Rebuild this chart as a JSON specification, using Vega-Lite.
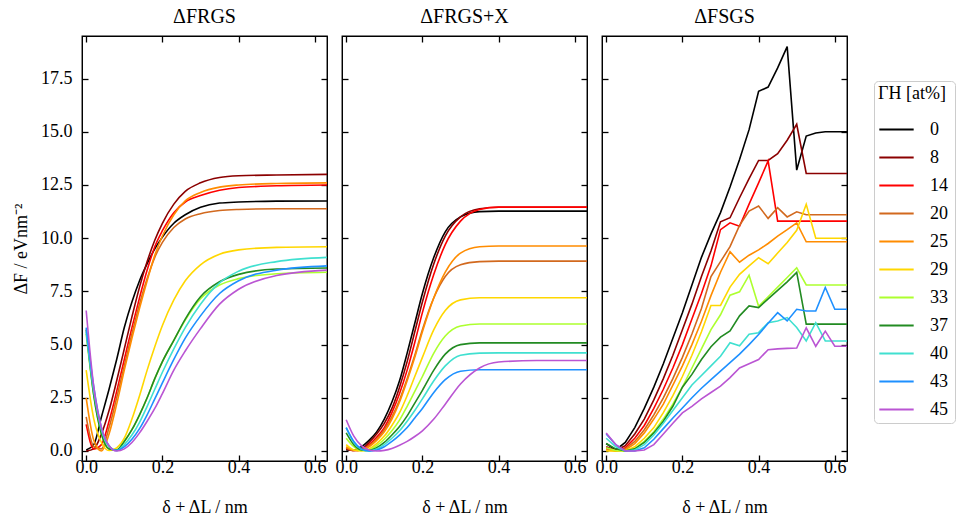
{
  "$schema": "https://vega.github.io/schema/vega-lite/v6.json",
  "padding": {"left": 11, "top": 6, "right": 0, "bottom": 0},
  "background": "white",
  "config": {
    "font": "Liberation Serif",
    "view": {"stroke": "black", "strokeWidth": 1.3},
    "concat": {"spacing": 3},
    "title": {"font": "Liberation Serif", "fontSize": 20, "fontWeight": "normal", "color": "black", "offset": 8},
    "axis": {"labelFont": "Liberation Serif", "labelFontSize": 18, "titleFont": "Liberation Serif", "titleFontSize": 18, "titleFontWeight": "normal", "labelColor": "black", "titleColor": "black", "tickColor": "black", "domainColor": "black", "tickSize": -6, "tickWidth": 1.3, "labelPadding": 16, "grid": false},
    "legend": {"labelFont": "Liberation Serif", "titleFont": "Liberation Serif"}
  },
  "datasets": {
    "d": [
{"p":"R","g":0,"x":0,"y":0.05},{"p":"R","g":0,"x":0.02,"y":0.3},{"p":"R","g":0,"x":0.04,"y":1.6},{"p":"R","g":0,"x":0.06,"y":2.9},{"p":"R","g":0,"x":0.08,"y":4.3},{"p":"R","g":0,"x":0.1,"y":5.8},{"p":"R","g":0,"x":0.12,"y":7.0},{"p":"R","g":0,"x":0.14,"y":8.0},{"p":"R","g":0,"x":0.16,"y":8.8},{"p":"R","g":0,"x":0.18,"y":9.5},{"p":"R","g":0,"x":0.2,"y":10.05},{"p":"R","g":0,"x":0.23,"y":10.7},{"p":"R","g":0,"x":0.26,"y":11.1},{"p":"R","g":0,"x":0.3,"y":11.45},{"p":"R","g":0,"x":0.35,"y":11.65},{"p":"R","g":0,"x":0.4,"y":11.7},{"p":"R","g":0,"x":0.5,"y":11.74},{"p":"R","g":0,"x":0.632,"y":11.75},
{"p":"R","g":8,"x":0,"y":0.0},{"p":"R","g":8,"x":0.02,"y":0.1},{"p":"R","g":8,"x":0.04,"y":0.8},{"p":"R","g":8,"x":0.06,"y":1.9},{"p":"R","g":8,"x":0.08,"y":3.3},{"p":"R","g":8,"x":0.1,"y":4.8},{"p":"R","g":8,"x":0.12,"y":6.3},{"p":"R","g":8,"x":0.14,"y":7.7},{"p":"R","g":8,"x":0.16,"y":8.9},{"p":"R","g":8,"x":0.18,"y":9.9},{"p":"R","g":8,"x":0.2,"y":10.7},{"p":"R","g":8,"x":0.23,"y":11.6},{"p":"R","g":8,"x":0.26,"y":12.2},{"p":"R","g":8,"x":0.3,"y":12.6},{"p":"R","g":8,"x":0.35,"y":12.85},{"p":"R","g":8,"x":0.4,"y":12.93},{"p":"R","g":8,"x":0.5,"y":12.97},{"p":"R","g":8,"x":0.632,"y":13.0},
{"p":"R","g":14,"x":0,"y":1.25},{"p":"R","g":14,"x":0.02,"y":0.1},{"p":"R","g":14,"x":0.04,"y":0.3},{"p":"R","g":14,"x":0.06,"y":1.4},{"p":"R","g":14,"x":0.08,"y":2.8},{"p":"R","g":14,"x":0.1,"y":4.3},{"p":"R","g":14,"x":0.12,"y":5.8},{"p":"R","g":14,"x":0.14,"y":7.2},{"p":"R","g":14,"x":0.16,"y":8.5},{"p":"R","g":14,"x":0.18,"y":9.6},{"p":"R","g":14,"x":0.2,"y":10.35},{"p":"R","g":14,"x":0.23,"y":11.2},{"p":"R","g":14,"x":0.26,"y":11.7},{"p":"R","g":14,"x":0.3,"y":12.0},{"p":"R","g":14,"x":0.35,"y":12.25},{"p":"R","g":14,"x":0.4,"y":12.38},{"p":"R","g":14,"x":0.5,"y":12.46},{"p":"R","g":14,"x":0.632,"y":12.5},
{"p":"R","g":20,"x":0,"y":1.6},{"p":"R","g":20,"x":0.02,"y":0.2},{"p":"R","g":20,"x":0.04,"y":0.1},{"p":"R","g":20,"x":0.06,"y":1.1},{"p":"R","g":20,"x":0.08,"y":2.5},{"p":"R","g":20,"x":0.1,"y":4.0},{"p":"R","g":20,"x":0.12,"y":5.5},{"p":"R","g":20,"x":0.14,"y":6.9},{"p":"R","g":20,"x":0.16,"y":8.1},{"p":"R","g":20,"x":0.18,"y":9.1},{"p":"R","g":20,"x":0.2,"y":9.8},{"p":"R","g":20,"x":0.23,"y":10.5},{"p":"R","g":20,"x":0.26,"y":10.9},{"p":"R","g":20,"x":0.3,"y":11.15},{"p":"R","g":20,"x":0.35,"y":11.3},{"p":"R","g":20,"x":0.4,"y":11.35},{"p":"R","g":20,"x":0.5,"y":11.38},{"p":"R","g":20,"x":0.632,"y":11.38},
{"p":"R","g":25,"x":0,"y":2.5},{"p":"R","g":25,"x":0.02,"y":0.5},{"p":"R","g":25,"x":0.04,"y":0.0},{"p":"R","g":25,"x":0.06,"y":0.8},{"p":"R","g":25,"x":0.08,"y":2.2},{"p":"R","g":25,"x":0.1,"y":3.8},{"p":"R","g":25,"x":0.12,"y":5.3},{"p":"R","g":25,"x":0.14,"y":6.7},{"p":"R","g":25,"x":0.16,"y":8.0},{"p":"R","g":25,"x":0.18,"y":9.2},{"p":"R","g":25,"x":0.2,"y":10.1},{"p":"R","g":25,"x":0.23,"y":11.1},{"p":"R","g":25,"x":0.26,"y":11.75},{"p":"R","g":25,"x":0.3,"y":12.15},{"p":"R","g":25,"x":0.35,"y":12.4},{"p":"R","g":25,"x":0.4,"y":12.5},{"p":"R","g":25,"x":0.5,"y":12.57},{"p":"R","g":25,"x":0.632,"y":12.6},
{"p":"R","g":29,"x":0,"y":3.8},{"p":"R","g":29,"x":0.02,"y":1.5},{"p":"R","g":29,"x":0.04,"y":0.4},{"p":"R","g":29,"x":0.06,"y":0.02},{"p":"R","g":29,"x":0.08,"y":0.15},{"p":"R","g":29,"x":0.1,"y":0.6},{"p":"R","g":29,"x":0.12,"y":1.5},{"p":"R","g":29,"x":0.14,"y":2.6},{"p":"R","g":29,"x":0.16,"y":3.8},{"p":"R","g":29,"x":0.18,"y":4.9},{"p":"R","g":29,"x":0.2,"y":5.9},{"p":"R","g":29,"x":0.23,"y":7.1},{"p":"R","g":29,"x":0.26,"y":8.0},{"p":"R","g":29,"x":0.3,"y":8.75},{"p":"R","g":29,"x":0.35,"y":9.25},{"p":"R","g":29,"x":0.4,"y":9.45},{"p":"R","g":29,"x":0.5,"y":9.57},{"p":"R","g":29,"x":0.632,"y":9.6},
{"p":"R","g":33,"x":0,"y":5.5},{"p":"R","g":33,"x":0.02,"y":2.6},{"p":"R","g":33,"x":0.04,"y":0.8},{"p":"R","g":33,"x":0.06,"y":0.1},{"p":"R","g":33,"x":0.08,"y":0.05},{"p":"R","g":33,"x":0.1,"y":0.45},{"p":"R","g":33,"x":0.12,"y":1.0},{"p":"R","g":33,"x":0.14,"y":1.7},{"p":"R","g":33,"x":0.16,"y":2.5},{"p":"R","g":33,"x":0.18,"y":3.4},{"p":"R","g":33,"x":0.2,"y":4.2},{"p":"R","g":33,"x":0.23,"y":5.2},{"p":"R","g":33,"x":0.26,"y":6.15},{"p":"R","g":33,"x":0.3,"y":7.15},{"p":"R","g":33,"x":0.35,"y":7.8},{"p":"R","g":33,"x":0.4,"y":8.1},{"p":"R","g":33,"x":0.5,"y":8.33},{"p":"R","g":33,"x":0.632,"y":8.4},
{"p":"R","g":37,"x":0,"y":5.7},{"p":"R","g":37,"x":0.02,"y":2.6},{"p":"R","g":37,"x":0.04,"y":0.8},{"p":"R","g":37,"x":0.06,"y":0.1},{"p":"R","g":37,"x":0.08,"y":0.05},{"p":"R","g":37,"x":0.1,"y":0.45},{"p":"R","g":37,"x":0.12,"y":1.0},{"p":"R","g":37,"x":0.14,"y":1.7},{"p":"R","g":37,"x":0.16,"y":2.5},{"p":"R","g":37,"x":0.18,"y":3.4},{"p":"R","g":37,"x":0.2,"y":4.2},{"p":"R","g":37,"x":0.23,"y":5.2},{"p":"R","g":37,"x":0.26,"y":6.2},{"p":"R","g":37,"x":0.3,"y":7.25},{"p":"R","g":37,"x":0.35,"y":7.95},{"p":"R","g":37,"x":0.4,"y":8.3},{"p":"R","g":37,"x":0.5,"y":8.55},{"p":"R","g":37,"x":0.632,"y":8.6},
{"p":"R","g":40,"x":0,"y":5.6},{"p":"R","g":40,"x":0.02,"y":2.8},{"p":"R","g":40,"x":0.04,"y":1.0},{"p":"R","g":40,"x":0.06,"y":0.2},{"p":"R","g":40,"x":0.08,"y":0.02},{"p":"R","g":40,"x":0.1,"y":0.3},{"p":"R","g":40,"x":0.12,"y":0.75},{"p":"R","g":40,"x":0.14,"y":1.35},{"p":"R","g":40,"x":0.16,"y":2.1},{"p":"R","g":40,"x":0.18,"y":2.9},{"p":"R","g":40,"x":0.2,"y":3.7},{"p":"R","g":40,"x":0.23,"y":4.8},{"p":"R","g":40,"x":0.26,"y":5.8},{"p":"R","g":40,"x":0.3,"y":6.9},{"p":"R","g":40,"x":0.35,"y":7.9},{"p":"R","g":40,"x":0.4,"y":8.45},{"p":"R","g":40,"x":0.5,"y":8.9},{"p":"R","g":40,"x":0.632,"y":9.1},
{"p":"R","g":43,"x":0,"y":5.8},{"p":"R","g":43,"x":0.02,"y":3.0},{"p":"R","g":43,"x":0.04,"y":1.1},{"p":"R","g":43,"x":0.06,"y":0.25},{"p":"R","g":43,"x":0.08,"y":0.02},{"p":"R","g":43,"x":0.1,"y":0.2},{"p":"R","g":43,"x":0.12,"y":0.55},{"p":"R","g":43,"x":0.14,"y":1.05},{"p":"R","g":43,"x":0.16,"y":1.7},{"p":"R","g":43,"x":0.18,"y":2.45},{"p":"R","g":43,"x":0.2,"y":3.2},{"p":"R","g":43,"x":0.23,"y":4.3},{"p":"R","g":43,"x":0.26,"y":5.3},{"p":"R","g":43,"x":0.3,"y":6.35},{"p":"R","g":43,"x":0.35,"y":7.4},{"p":"R","g":43,"x":0.4,"y":8.0},{"p":"R","g":43,"x":0.5,"y":8.5},{"p":"R","g":43,"x":0.632,"y":8.7},
{"p":"R","g":45,"x":0,"y":6.6},{"p":"R","g":45,"x":0.02,"y":3.0},{"p":"R","g":45,"x":0.04,"y":1.1},{"p":"R","g":45,"x":0.06,"y":0.25},{"p":"R","g":45,"x":0.08,"y":0.0},{"p":"R","g":45,"x":0.1,"y":0.1},{"p":"R","g":45,"x":0.12,"y":0.4},{"p":"R","g":45,"x":0.14,"y":0.85},{"p":"R","g":45,"x":0.16,"y":1.4},{"p":"R","g":45,"x":0.18,"y":2.0},{"p":"R","g":45,"x":0.2,"y":2.7},{"p":"R","g":45,"x":0.23,"y":3.8},{"p":"R","g":45,"x":0.26,"y":4.7},{"p":"R","g":45,"x":0.3,"y":5.75},{"p":"R","g":45,"x":0.35,"y":6.9},{"p":"R","g":45,"x":0.4,"y":7.6},{"p":"R","g":45,"x":0.5,"y":8.25},{"p":"R","g":45,"x":0.632,"y":8.5},

{"p":"X","g":0,"x":0,"y":0.05},{"p":"X","g":0,"x":0.02,"y":0.05},{"p":"X","g":0,"x":0.04,"y":0.2},{"p":"X","g":0,"x":0.06,"y":0.5},{"p":"X","g":0,"x":0.08,"y":0.9},{"p":"X","g":0,"x":0.1,"y":1.5},{"p":"X","g":0,"x":0.12,"y":2.3},{"p":"X","g":0,"x":0.14,"y":3.3},{"p":"X","g":0,"x":0.16,"y":4.6},{"p":"X","g":0,"x":0.18,"y":6.0},{"p":"X","g":0,"x":0.2,"y":7.4},{"p":"X","g":0,"x":0.23,"y":9.1},{"p":"X","g":0,"x":0.26,"y":10.3},{"p":"X","g":0,"x":0.3,"y":11.0},{"p":"X","g":0,"x":0.35,"y":11.25},{"p":"X","g":0,"x":0.4,"y":11.27},{"p":"X","g":0,"x":0.5,"y":11.27},{"p":"X","g":0,"x":0.632,"y":11.27},
{"p":"X","g":8,"x":0,"y":0.1},{"p":"X","g":8,"x":0.02,"y":0.02},{"p":"X","g":8,"x":0.04,"y":0.1},{"p":"X","g":8,"x":0.06,"y":0.4},{"p":"X","g":8,"x":0.08,"y":0.8},{"p":"X","g":8,"x":0.1,"y":1.3},{"p":"X","g":8,"x":0.12,"y":2.0},{"p":"X","g":8,"x":0.14,"y":3.0},{"p":"X","g":8,"x":0.16,"y":4.2},{"p":"X","g":8,"x":0.18,"y":5.6},{"p":"X","g":8,"x":0.2,"y":7.0},{"p":"X","g":8,"x":0.23,"y":8.8},{"p":"X","g":8,"x":0.26,"y":10.1},{"p":"X","g":8,"x":0.3,"y":11.0},{"p":"X","g":8,"x":0.35,"y":11.38},{"p":"X","g":8,"x":0.4,"y":11.45},{"p":"X","g":8,"x":0.5,"y":11.45},{"p":"X","g":8,"x":0.632,"y":11.45},
{"p":"X","g":14,"x":0,"y":0.15},{"p":"X","g":14,"x":0.02,"y":0.02},{"p":"X","g":14,"x":0.04,"y":0.05},{"p":"X","g":14,"x":0.06,"y":0.3},{"p":"X","g":14,"x":0.08,"y":0.65},{"p":"X","g":14,"x":0.1,"y":1.1},{"p":"X","g":14,"x":0.12,"y":1.8},{"p":"X","g":14,"x":0.14,"y":2.7},{"p":"X","g":14,"x":0.16,"y":3.8},{"p":"X","g":14,"x":0.18,"y":5.1},{"p":"X","g":14,"x":0.2,"y":6.5},{"p":"X","g":14,"x":0.23,"y":8.3},{"p":"X","g":14,"x":0.26,"y":9.7},{"p":"X","g":14,"x":0.3,"y":10.8},{"p":"X","g":14,"x":0.35,"y":11.35},{"p":"X","g":14,"x":0.4,"y":11.46},{"p":"X","g":14,"x":0.5,"y":11.46},{"p":"X","g":14,"x":0.632,"y":11.46},
{"p":"X","g":20,"x":0,"y":0.15},{"p":"X","g":20,"x":0.02,"y":0.02},{"p":"X","g":20,"x":0.04,"y":0.05},{"p":"X","g":20,"x":0.06,"y":0.25},{"p":"X","g":20,"x":0.08,"y":0.55},{"p":"X","g":20,"x":0.1,"y":1.0},{"p":"X","g":20,"x":0.12,"y":1.6},{"p":"X","g":20,"x":0.14,"y":2.4},{"p":"X","g":20,"x":0.16,"y":3.4},{"p":"X","g":20,"x":0.18,"y":4.5},{"p":"X","g":20,"x":0.2,"y":5.7},{"p":"X","g":20,"x":0.23,"y":7.2},{"p":"X","g":20,"x":0.26,"y":8.2},{"p":"X","g":20,"x":0.3,"y":8.75},{"p":"X","g":20,"x":0.35,"y":8.9},{"p":"X","g":20,"x":0.4,"y":8.92},{"p":"X","g":20,"x":0.5,"y":8.92},{"p":"X","g":20,"x":0.632,"y":8.92},
{"p":"X","g":25,"x":0,"y":0.2},{"p":"X","g":25,"x":0.02,"y":0.05},{"p":"X","g":25,"x":0.04,"y":0.05},{"p":"X","g":25,"x":0.06,"y":0.2},{"p":"X","g":25,"x":0.08,"y":0.5},{"p":"X","g":25,"x":0.1,"y":0.9},{"p":"X","g":25,"x":0.12,"y":1.5},{"p":"X","g":25,"x":0.14,"y":2.3},{"p":"X","g":25,"x":0.16,"y":3.3},{"p":"X","g":25,"x":0.18,"y":4.4},{"p":"X","g":25,"x":0.2,"y":5.6},{"p":"X","g":25,"x":0.23,"y":7.2},{"p":"X","g":25,"x":0.26,"y":8.4},{"p":"X","g":25,"x":0.3,"y":9.3},{"p":"X","g":25,"x":0.35,"y":9.6},{"p":"X","g":25,"x":0.4,"y":9.63},{"p":"X","g":25,"x":0.5,"y":9.63},{"p":"X","g":25,"x":0.632,"y":9.63},
{"p":"X","g":29,"x":0,"y":0.3},{"p":"X","g":29,"x":0.02,"y":0.05},{"p":"X","g":29,"x":0.04,"y":0.0},{"p":"X","g":29,"x":0.06,"y":0.1},{"p":"X","g":29,"x":0.08,"y":0.35},{"p":"X","g":29,"x":0.1,"y":0.7},{"p":"X","g":29,"x":0.12,"y":1.2},{"p":"X","g":29,"x":0.14,"y":1.8},{"p":"X","g":29,"x":0.16,"y":2.6},{"p":"X","g":29,"x":0.18,"y":3.5},{"p":"X","g":29,"x":0.2,"y":4.4},{"p":"X","g":29,"x":0.23,"y":5.7},{"p":"X","g":29,"x":0.26,"y":6.6},{"p":"X","g":29,"x":0.3,"y":7.1},{"p":"X","g":29,"x":0.35,"y":7.2},{"p":"X","g":29,"x":0.4,"y":7.2},{"p":"X","g":29,"x":0.5,"y":7.2},{"p":"X","g":29,"x":0.632,"y":7.2},
{"p":"X","g":33,"x":0,"y":0.6},{"p":"X","g":33,"x":0.02,"y":0.2},{"p":"X","g":33,"x":0.04,"y":0.02},{"p":"X","g":33,"x":0.06,"y":0.05},{"p":"X","g":33,"x":0.08,"y":0.25},{"p":"X","g":33,"x":0.1,"y":0.55},{"p":"X","g":33,"x":0.12,"y":0.95},{"p":"X","g":33,"x":0.14,"y":1.45},{"p":"X","g":33,"x":0.16,"y":2.1},{"p":"X","g":33,"x":0.18,"y":2.8},{"p":"X","g":33,"x":0.2,"y":3.5},{"p":"X","g":33,"x":0.23,"y":4.6},{"p":"X","g":33,"x":0.26,"y":5.4},{"p":"X","g":33,"x":0.3,"y":5.87},{"p":"X","g":33,"x":0.35,"y":5.97},{"p":"X","g":33,"x":0.4,"y":5.97},{"p":"X","g":33,"x":0.5,"y":5.97},{"p":"X","g":33,"x":0.632,"y":5.97},
{"p":"X","g":37,"x":0,"y":0.85},{"p":"X","g":37,"x":0.02,"y":0.3},{"p":"X","g":37,"x":0.04,"y":0.05},{"p":"X","g":37,"x":0.06,"y":0.02},{"p":"X","g":37,"x":0.08,"y":0.15},{"p":"X","g":37,"x":0.1,"y":0.4},{"p":"X","g":37,"x":0.12,"y":0.75},{"p":"X","g":37,"x":0.14,"y":1.15},{"p":"X","g":37,"x":0.16,"y":1.65},{"p":"X","g":37,"x":0.18,"y":2.25},{"p":"X","g":37,"x":0.2,"y":2.85},{"p":"X","g":37,"x":0.23,"y":3.8},{"p":"X","g":37,"x":0.26,"y":4.55},{"p":"X","g":37,"x":0.3,"y":5.0},{"p":"X","g":37,"x":0.35,"y":5.08},{"p":"X","g":37,"x":0.4,"y":5.08},{"p":"X","g":37,"x":0.5,"y":5.08},{"p":"X","g":37,"x":0.632,"y":5.08},
{"p":"X","g":40,"x":0,"y":1.1},{"p":"X","g":40,"x":0.02,"y":0.4},{"p":"X","g":40,"x":0.04,"y":0.08},{"p":"X","g":40,"x":0.06,"y":0.0},{"p":"X","g":40,"x":0.08,"y":0.1},{"p":"X","g":40,"x":0.1,"y":0.3},{"p":"X","g":40,"x":0.12,"y":0.6},{"p":"X","g":40,"x":0.14,"y":0.95},{"p":"X","g":40,"x":0.16,"y":1.4},{"p":"X","g":40,"x":0.18,"y":1.9},{"p":"X","g":40,"x":0.2,"y":2.45},{"p":"X","g":40,"x":0.23,"y":3.3},{"p":"X","g":40,"x":0.26,"y":4.0},{"p":"X","g":40,"x":0.3,"y":4.5},{"p":"X","g":40,"x":0.35,"y":4.6},{"p":"X","g":40,"x":0.4,"y":4.61},{"p":"X","g":40,"x":0.5,"y":4.61},{"p":"X","g":40,"x":0.632,"y":4.61},
{"p":"X","g":43,"x":0,"y":1.1},{"p":"X","g":43,"x":0.02,"y":0.45},{"p":"X","g":43,"x":0.04,"y":0.1},{"p":"X","g":43,"x":0.06,"y":0.0},{"p":"X","g":43,"x":0.08,"y":0.05},{"p":"X","g":43,"x":0.1,"y":0.2},{"p":"X","g":43,"x":0.12,"y":0.45},{"p":"X","g":43,"x":0.14,"y":0.75},{"p":"X","g":43,"x":0.16,"y":1.1},{"p":"X","g":43,"x":0.18,"y":1.55},{"p":"X","g":43,"x":0.2,"y":2.0},{"p":"X","g":43,"x":0.23,"y":2.75},{"p":"X","g":43,"x":0.26,"y":3.35},{"p":"X","g":43,"x":0.3,"y":3.75},{"p":"X","g":43,"x":0.35,"y":3.82},{"p":"X","g":43,"x":0.4,"y":3.82},{"p":"X","g":43,"x":0.5,"y":3.82},{"p":"X","g":43,"x":0.632,"y":3.82},
{"p":"X","g":45,"x":0,"y":1.47},{"p":"X","g":45,"x":0.02,"y":0.7},{"p":"X","g":45,"x":0.04,"y":0.25},{"p":"X","g":45,"x":0.06,"y":0.05},{"p":"X","g":45,"x":0.08,"y":0.0},{"p":"X","g":45,"x":0.1,"y":0.03},{"p":"X","g":45,"x":0.12,"y":0.12},{"p":"X","g":45,"x":0.14,"y":0.27},{"p":"X","g":45,"x":0.16,"y":0.45},{"p":"X","g":45,"x":0.18,"y":0.68},{"p":"X","g":45,"x":0.2,"y":0.95},{"p":"X","g":45,"x":0.23,"y":1.5},{"p":"X","g":45,"x":0.26,"y":2.2},{"p":"X","g":45,"x":0.3,"y":3.15},{"p":"X","g":45,"x":0.35,"y":3.9},{"p":"X","g":45,"x":0.4,"y":4.18},{"p":"X","g":45,"x":0.5,"y":4.25},{"p":"X","g":45,"x":0.632,"y":4.25},

{"p":"S","g":0,"x":0,"y":0.35},{"p":"S","g":0,"x":0.025,"y":0.05},{"p":"S","g":0,"x":0.05,"y":0.4},{"p":"S","g":0,"x":0.075,"y":1.1},{"p":"S","g":0,"x":0.1,"y":2.0},{"p":"S","g":0,"x":0.125,"y":3.0},{"p":"S","g":0,"x":0.15,"y":4.1},{"p":"S","g":0,"x":0.175,"y":5.3},{"p":"S","g":0,"x":0.2,"y":6.5},{"p":"S","g":0,"x":0.225,"y":7.8},{"p":"S","g":0,"x":0.25,"y":9.1},{"p":"S","g":0,"x":0.275,"y":10.2},{"p":"S","g":0,"x":0.3,"y":11.2},{"p":"S","g":0,"x":0.325,"y":12.4},{"p":"S","g":0,"x":0.35,"y":13.7},{"p":"S","g":0,"x":0.375,"y":15.1},{"p":"S","g":0,"x":0.4,"y":16.9},{"p":"S","g":0,"x":0.425,"y":17.1},{"p":"S","g":0,"x":0.45,"y":18.0},{"p":"S","g":0,"x":0.475,"y":19.0},{"p":"S","g":0,"x":0.5,"y":13.2},{"p":"S","g":0,"x":0.525,"y":14.8},{"p":"S","g":0,"x":0.55,"y":14.94},{"p":"S","g":0,"x":0.575,"y":15.0},{"p":"S","g":0,"x":0.6,"y":15.0},{"p":"S","g":0,"x":0.632,"y":15.0},
{"p":"S","g":8,"x":0,"y":0.2},{"p":"S","g":8,"x":0.025,"y":0.02},{"p":"S","g":8,"x":0.05,"y":0.25},{"p":"S","g":8,"x":0.075,"y":0.8},{"p":"S","g":8,"x":0.1,"y":1.5},{"p":"S","g":8,"x":0.125,"y":2.4},{"p":"S","g":8,"x":0.15,"y":3.4},{"p":"S","g":8,"x":0.175,"y":4.5},{"p":"S","g":8,"x":0.2,"y":5.7},{"p":"S","g":8,"x":0.225,"y":6.9},{"p":"S","g":8,"x":0.25,"y":8.2},{"p":"S","g":8,"x":0.275,"y":9.4},{"p":"S","g":8,"x":0.3,"y":10.77},{"p":"S","g":8,"x":0.325,"y":10.96},{"p":"S","g":8,"x":0.35,"y":11.9},{"p":"S","g":8,"x":0.375,"y":12.8},{"p":"S","g":8,"x":0.4,"y":13.65},{"p":"S","g":8,"x":0.425,"y":13.65},{"p":"S","g":8,"x":0.45,"y":13.97},{"p":"S","g":8,"x":0.475,"y":14.6},{"p":"S","g":8,"x":0.5,"y":15.35},{"p":"S","g":8,"x":0.525,"y":13.04},{"p":"S","g":8,"x":0.55,"y":13.04},{"p":"S","g":8,"x":0.575,"y":13.04},{"p":"S","g":8,"x":0.6,"y":13.04},{"p":"S","g":8,"x":0.632,"y":13.04},
{"p":"S","g":14,"x":0,"y":0.15},{"p":"S","g":14,"x":0.025,"y":0.0},{"p":"S","g":14,"x":0.05,"y":0.15},{"p":"S","g":14,"x":0.075,"y":0.6},{"p":"S","g":14,"x":0.1,"y":1.2},{"p":"S","g":14,"x":0.125,"y":2.0},{"p":"S","g":14,"x":0.15,"y":2.9},{"p":"S","g":14,"x":0.175,"y":3.9},{"p":"S","g":14,"x":0.2,"y":5.0},{"p":"S","g":14,"x":0.225,"y":6.2},{"p":"S","g":14,"x":0.25,"y":7.4},{"p":"S","g":14,"x":0.275,"y":8.7},{"p":"S","g":14,"x":0.3,"y":10.4},{"p":"S","g":14,"x":0.325,"y":10.72},{"p":"S","g":14,"x":0.35,"y":10.56},{"p":"S","g":14,"x":0.375,"y":11.6},{"p":"S","g":14,"x":0.4,"y":12.6},{"p":"S","g":14,"x":0.425,"y":13.63},{"p":"S","g":14,"x":0.45,"y":10.8},{"p":"S","g":14,"x":0.475,"y":10.8},{"p":"S","g":14,"x":0.5,"y":10.8},{"p":"S","g":14,"x":0.525,"y":10.8},{"p":"S","g":14,"x":0.55,"y":10.8},{"p":"S","g":14,"x":0.575,"y":10.8},{"p":"S","g":14,"x":0.6,"y":10.8},{"p":"S","g":14,"x":0.632,"y":10.8},
{"p":"S","g":20,"x":0,"y":0.1},{"p":"S","g":20,"x":0.025,"y":0.0},{"p":"S","g":20,"x":0.05,"y":0.1},{"p":"S","g":20,"x":0.075,"y":0.45},{"p":"S","g":20,"x":0.1,"y":1.0},{"p":"S","g":20,"x":0.125,"y":1.7},{"p":"S","g":20,"x":0.15,"y":2.5},{"p":"S","g":20,"x":0.175,"y":3.4},{"p":"S","g":20,"x":0.2,"y":4.4},{"p":"S","g":20,"x":0.225,"y":5.5},{"p":"S","g":20,"x":0.25,"y":6.7},{"p":"S","g":20,"x":0.275,"y":8.2},{"p":"S","g":20,"x":0.3,"y":8.9},{"p":"S","g":20,"x":0.325,"y":9.6},{"p":"S","g":20,"x":0.35,"y":10.6},{"p":"S","g":20,"x":0.375,"y":11.27},{"p":"S","g":20,"x":0.4,"y":11.51},{"p":"S","g":20,"x":0.425,"y":10.93},{"p":"S","g":20,"x":0.45,"y":11.43},{"p":"S","g":20,"x":0.475,"y":11.0},{"p":"S","g":20,"x":0.5,"y":11.24},{"p":"S","g":20,"x":0.525,"y":11.1},{"p":"S","g":20,"x":0.55,"y":11.1},{"p":"S","g":20,"x":0.575,"y":11.1},{"p":"S","g":20,"x":0.6,"y":11.1},{"p":"S","g":20,"x":0.632,"y":11.1},
{"p":"S","g":25,"x":0,"y":0.05},{"p":"S","g":25,"x":0.025,"y":0.0},{"p":"S","g":25,"x":0.05,"y":0.05},{"p":"S","g":25,"x":0.075,"y":0.35},{"p":"S","g":25,"x":0.1,"y":0.85},{"p":"S","g":25,"x":0.125,"y":1.5},{"p":"S","g":25,"x":0.15,"y":2.2},{"p":"S","g":25,"x":0.175,"y":3.1},{"p":"S","g":25,"x":0.2,"y":4.0},{"p":"S","g":25,"x":0.225,"y":5.0},{"p":"S","g":25,"x":0.25,"y":6.1},{"p":"S","g":25,"x":0.275,"y":7.3},{"p":"S","g":25,"x":0.3,"y":8.4},{"p":"S","g":25,"x":0.325,"y":9.36},{"p":"S","g":25,"x":0.35,"y":8.87},{"p":"S","g":25,"x":0.375,"y":9.2},{"p":"S","g":25,"x":0.4,"y":9.45},{"p":"S","g":25,"x":0.425,"y":9.75},{"p":"S","g":25,"x":0.45,"y":10.1},{"p":"S","g":25,"x":0.475,"y":10.4},{"p":"S","g":25,"x":0.5,"y":10.72},{"p":"S","g":25,"x":0.525,"y":9.83},{"p":"S","g":25,"x":0.55,"y":9.83},{"p":"S","g":25,"x":0.575,"y":9.83},{"p":"S","g":25,"x":0.6,"y":9.83},{"p":"S","g":25,"x":0.632,"y":9.83},
{"p":"S","g":29,"x":0,"y":0.0},{"p":"S","g":29,"x":0.025,"y":0.0},{"p":"S","g":29,"x":0.05,"y":0.0},{"p":"S","g":29,"x":0.075,"y":0.2},{"p":"S","g":29,"x":0.1,"y":0.6},{"p":"S","g":29,"x":0.125,"y":1.1},{"p":"S","g":29,"x":0.15,"y":1.8},{"p":"S","g":29,"x":0.175,"y":2.6},{"p":"S","g":29,"x":0.2,"y":3.5},{"p":"S","g":29,"x":0.225,"y":4.5},{"p":"S","g":29,"x":0.25,"y":5.6},{"p":"S","g":29,"x":0.275,"y":6.84},{"p":"S","g":29,"x":0.3,"y":6.84},{"p":"S","g":29,"x":0.325,"y":7.7},{"p":"S","g":29,"x":0.35,"y":8.3},{"p":"S","g":29,"x":0.375,"y":8.7},{"p":"S","g":29,"x":0.4,"y":9.08},{"p":"S","g":29,"x":0.425,"y":8.8},{"p":"S","g":29,"x":0.45,"y":9.3},{"p":"S","g":29,"x":0.475,"y":9.8},{"p":"S","g":29,"x":0.5,"y":10.37},{"p":"S","g":29,"x":0.525,"y":11.59},{"p":"S","g":29,"x":0.55,"y":10.0},{"p":"S","g":29,"x":0.575,"y":10.0},{"p":"S","g":29,"x":0.6,"y":10.0},{"p":"S","g":29,"x":0.632,"y":10.0},
{"p":"S","g":33,"x":0,"y":0.15},{"p":"S","g":33,"x":0.025,"y":0.02},{"p":"S","g":33,"x":0.05,"y":0.0},{"p":"S","g":33,"x":0.075,"y":0.1},{"p":"S","g":33,"x":0.1,"y":0.45},{"p":"S","g":33,"x":0.125,"y":0.9},{"p":"S","g":33,"x":0.15,"y":1.5},{"p":"S","g":33,"x":0.175,"y":2.2},{"p":"S","g":33,"x":0.2,"y":3.0},{"p":"S","g":33,"x":0.225,"y":3.9},{"p":"S","g":33,"x":0.25,"y":4.8},{"p":"S","g":33,"x":0.275,"y":5.7},{"p":"S","g":33,"x":0.3,"y":6.4},{"p":"S","g":33,"x":0.325,"y":7.32},{"p":"S","g":33,"x":0.35,"y":7.48},{"p":"S","g":33,"x":0.375,"y":8.26},{"p":"S","g":33,"x":0.4,"y":6.8},{"p":"S","g":33,"x":0.425,"y":7.25},{"p":"S","g":33,"x":0.45,"y":7.7},{"p":"S","g":33,"x":0.475,"y":8.15},{"p":"S","g":33,"x":0.5,"y":8.61},{"p":"S","g":33,"x":0.525,"y":7.8},{"p":"S","g":33,"x":0.55,"y":7.8},{"p":"S","g":33,"x":0.575,"y":7.8},{"p":"S","g":33,"x":0.6,"y":7.8},{"p":"S","g":33,"x":0.632,"y":7.8},
{"p":"S","g":37,"x":0,"y":0.35},{"p":"S","g":37,"x":0.025,"y":0.1},{"p":"S","g":37,"x":0.05,"y":0.0},{"p":"S","g":37,"x":0.075,"y":0.1},{"p":"S","g":37,"x":0.1,"y":0.4},{"p":"S","g":37,"x":0.125,"y":0.85},{"p":"S","g":37,"x":0.15,"y":1.4},{"p":"S","g":37,"x":0.175,"y":2.1},{"p":"S","g":37,"x":0.2,"y":3.0},{"p":"S","g":37,"x":0.225,"y":3.6},{"p":"S","g":37,"x":0.25,"y":4.3},{"p":"S","g":37,"x":0.275,"y":4.9},{"p":"S","g":37,"x":0.3,"y":5.35},{"p":"S","g":37,"x":0.325,"y":5.64},{"p":"S","g":37,"x":0.35,"y":6.35},{"p":"S","g":37,"x":0.375,"y":6.82},{"p":"S","g":37,"x":0.4,"y":6.74},{"p":"S","g":37,"x":0.425,"y":7.15},{"p":"S","g":37,"x":0.45,"y":7.55},{"p":"S","g":37,"x":0.475,"y":7.95},{"p":"S","g":37,"x":0.5,"y":8.39},{"p":"S","g":37,"x":0.525,"y":5.96},{"p":"S","g":37,"x":0.55,"y":5.96},{"p":"S","g":37,"x":0.575,"y":5.96},{"p":"S","g":37,"x":0.6,"y":5.96},{"p":"S","g":37,"x":0.632,"y":5.96},
{"p":"S","g":40,"x":0,"y":0.6},{"p":"S","g":40,"x":0.025,"y":0.2},{"p":"S","g":40,"x":0.05,"y":0.0},{"p":"S","g":40,"x":0.075,"y":0.05},{"p":"S","g":40,"x":0.1,"y":0.3},{"p":"S","g":40,"x":0.125,"y":0.75},{"p":"S","g":40,"x":0.15,"y":1.3},{"p":"S","g":40,"x":0.175,"y":1.9},{"p":"S","g":40,"x":0.2,"y":2.5},{"p":"S","g":40,"x":0.225,"y":3.1},{"p":"S","g":40,"x":0.25,"y":3.55},{"p":"S","g":40,"x":0.275,"y":4.0},{"p":"S","g":40,"x":0.3,"y":4.45},{"p":"S","g":40,"x":0.325,"y":5.09},{"p":"S","g":40,"x":0.35,"y":4.94},{"p":"S","g":40,"x":0.375,"y":5.49},{"p":"S","g":40,"x":0.4,"y":5.56},{"p":"S","g":40,"x":0.425,"y":6.03},{"p":"S","g":40,"x":0.45,"y":6.11},{"p":"S","g":40,"x":0.475,"y":6.27},{"p":"S","g":40,"x":0.5,"y":5.8},{"p":"S","g":40,"x":0.525,"y":5.17},{"p":"S","g":40,"x":0.55,"y":6.03},{"p":"S","g":40,"x":0.575,"y":5.17},{"p":"S","g":40,"x":0.6,"y":5.17},{"p":"S","g":40,"x":0.632,"y":5.17},
{"p":"S","g":43,"x":0,"y":0.8},{"p":"S","g":43,"x":0.025,"y":0.3},{"p":"S","g":43,"x":0.05,"y":0.0},{"p":"S","g":43,"x":0.075,"y":0.0},{"p":"S","g":43,"x":0.1,"y":0.15},{"p":"S","g":43,"x":0.125,"y":0.55},{"p":"S","g":43,"x":0.15,"y":1.05},{"p":"S","g":43,"x":0.175,"y":1.55},{"p":"S","g":43,"x":0.2,"y":2.02},{"p":"S","g":43,"x":0.225,"y":2.5},{"p":"S","g":43,"x":0.25,"y":2.95},{"p":"S","g":43,"x":0.275,"y":3.35},{"p":"S","g":43,"x":0.3,"y":3.75},{"p":"S","g":43,"x":0.325,"y":4.15},{"p":"S","g":43,"x":0.35,"y":4.55},{"p":"S","g":43,"x":0.375,"y":5.0},{"p":"S","g":43,"x":0.4,"y":5.47},{"p":"S","g":43,"x":0.425,"y":6.0},{"p":"S","g":43,"x":0.45,"y":6.5},{"p":"S","g":43,"x":0.475,"y":6.11},{"p":"S","g":43,"x":0.5,"y":6.66},{"p":"S","g":43,"x":0.525,"y":6.58},{"p":"S","g":43,"x":0.55,"y":6.58},{"p":"S","g":43,"x":0.575,"y":7.68},{"p":"S","g":43,"x":0.6,"y":6.66},{"p":"S","g":43,"x":0.632,"y":6.66},
{"p":"S","g":45,"x":0,"y":0.85},{"p":"S","g":45,"x":0.025,"y":0.3},{"p":"S","g":45,"x":0.05,"y":0.0},{"p":"S","g":45,"x":0.075,"y":0.0},{"p":"S","g":45,"x":0.1,"y":0.05},{"p":"S","g":45,"x":0.125,"y":0.3},{"p":"S","g":45,"x":0.15,"y":0.8},{"p":"S","g":45,"x":0.175,"y":1.3},{"p":"S","g":45,"x":0.2,"y":1.79},{"p":"S","g":45,"x":0.225,"y":2.1},{"p":"S","g":45,"x":0.25,"y":2.45},{"p":"S","g":45,"x":0.275,"y":2.75},{"p":"S","g":45,"x":0.3,"y":3.05},{"p":"S","g":45,"x":0.325,"y":3.45},{"p":"S","g":45,"x":0.35,"y":3.9},{"p":"S","g":45,"x":0.375,"y":4.1},{"p":"S","g":45,"x":0.4,"y":4.3},{"p":"S","g":45,"x":0.425,"y":4.76},{"p":"S","g":45,"x":0.45,"y":4.8},{"p":"S","g":45,"x":0.475,"y":4.82},{"p":"S","g":45,"x":0.5,"y":4.84},{"p":"S","g":45,"x":0.525,"y":5.79},{"p":"S","g":45,"x":0.55,"y":4.92},{"p":"S","g":45,"x":0.575,"y":5.63},{"p":"S","g":45,"x":0.6,"y":4.92},{"p":"S","g":45,"x":0.632,"y":4.92}
    ]
  },
  "data": {"name": "d"},
  "hconcat": [
    {
      "width": 245, "height": 425,
      "title": "ΔFRGS",
      "transform": [{"filter": "datum.p === 'R'"}],
      "layer": [
        {
          "mark": {"type": "line", "strokeWidth": 1.6, "interpolate": "monotone", "clip": true},
          "encoding": {
            "x": {"field": "x", "type": "quantitative", "scale": {"domain": [-0.011, 0.632], "nice": false, "zero": false}, "axis": {"values": [0, 0.2, 0.4, 0.6], "format": ".1f", "title": "δ + ΔL  / nm", "labelPadding": 3, "titlePadding": 22}},
            "y": {"field": "y", "type": "quantitative", "scale": {"domain": [-0.47, 19.5], "nice": false, "zero": false}, "axis": {"orient": "left", "values": [0, 2.5, 5, 7.5, 10, 12.5, 15, 17.5], "format": ".1f", "title": "ΔF  / eVnm⁻²", "titlePadding": 10}},
            "color": {"field": "g", "type": "ordinal", "scale": {"domain": [0, 8, 14, 20, 25, 29, 33, 37, 40, 43, 45], "range": ["#000000", "#8b0000", "#ff0000", "#d2691e", "#ff8c00", "#ffd700", "#adff2f", "#228b22", "#40e0d0", "#1e90ff", "#ba55d3"]},
              "legend": {"title": "ΓH  [at%]", "orient": "none", "legendX": 792, "legendY": 45, "symbolType": "stroke", "symbolSize": 1180, "symbolStrokeWidth": 2, "rowPadding": -20, "labelFontSize": 18, "titleFontSize": 18, "titleFontWeight": "normal", "padding": 4, "strokeColor": "#cccccc", "fillColor": "white", "cornerRadius": 4, "labelOffset": 15, "titlePadding": 8, "labelColor": "black", "titleColor": "black"}}
          }
        },
        {
          "mark": {"type": "point", "opacity": 0},
          "encoding": {
            "x": {"field": "x", "type": "quantitative", "axis": {"orient": "top", "values": [0, 0.2, 0.4, 0.6], "labels": false, "title": null, "labelPadding": 0}},
            "y": {"field": "y", "type": "quantitative", "axis": {"orient": "right", "values": [0, 2.5, 5, 7.5, 10, 12.5, 15, 17.5], "labels": false, "title": null, "labelPadding": 0}}
          }
        }
      ],
      "resolve": {"axis": {"x": "independent", "y": "independent"}}
    },
    {
      "width": 245, "height": 425,
      "title": "ΔFRGS+X",
      "transform": [{"filter": "datum.p === 'X'"}],
      "layer": [
        {
          "mark": {"type": "line", "strokeWidth": 1.6, "interpolate": "monotone", "clip": true},
          "encoding": {
            "x": {"field": "x", "type": "quantitative", "scale": {"domain": [-0.011, 0.632], "nice": false, "zero": false}, "axis": {"values": [0, 0.2, 0.4, 0.6], "format": ".1f", "title": "δ + ΔL  / nm", "labelPadding": 3, "titlePadding": 22}},
            "y": {"field": "y", "type": "quantitative", "scale": {"domain": [-0.47, 19.5], "nice": false, "zero": false}, "axis": {"orient": "left", "values": [0, 2.5, 5, 7.5, 10, 12.5, 15, 17.5], "labels": false, "title": null, "labelPadding": 0}},
            "color": {"field": "g", "type": "ordinal", "scale": {"domain": [0, 8, 14, 20, 25, 29, 33, 37, 40, 43, 45], "range": ["#000000", "#8b0000", "#ff0000", "#d2691e", "#ff8c00", "#ffd700", "#adff2f", "#228b22", "#40e0d0", "#1e90ff", "#ba55d3"]}}
          }
        },
        {
          "mark": {"type": "point", "opacity": 0},
          "encoding": {
            "x": {"field": "x", "type": "quantitative", "axis": {"orient": "top", "values": [0, 0.2, 0.4, 0.6], "labels": false, "title": null, "labelPadding": 0}},
            "y": {"field": "y", "type": "quantitative", "axis": {"orient": "right", "values": [0, 2.5, 5, 7.5, 10, 12.5, 15, 17.5], "labels": false, "title": null, "labelPadding": 0}}
          }
        }
      ],
      "resolve": {"axis": {"x": "independent", "y": "independent"}}
    },
    {
      "width": 245, "height": 425,
      "title": "ΔFSGS",
      "transform": [{"filter": "datum.p === 'S'"}],
      "layer": [
        {
          "mark": {"type": "line", "strokeWidth": 1.6, "clip": true},
          "encoding": {
            "x": {"field": "x", "type": "quantitative", "scale": {"domain": [-0.011, 0.632], "nice": false, "zero": false}, "axis": {"values": [0, 0.2, 0.4, 0.6], "format": ".1f", "title": "δ + ΔL  / nm", "labelPadding": 3, "titlePadding": 22}},
            "y": {"field": "y", "type": "quantitative", "scale": {"domain": [-0.47, 19.5], "nice": false, "zero": false}, "axis": {"orient": "left", "values": [0, 2.5, 5, 7.5, 10, 12.5, 15, 17.5], "labels": false, "title": null, "labelPadding": 0}},
            "color": {"field": "g", "type": "ordinal", "scale": {"domain": [0, 8, 14, 20, 25, 29, 33, 37, 40, 43, 45], "range": ["#000000", "#8b0000", "#ff0000", "#d2691e", "#ff8c00", "#ffd700", "#adff2f", "#228b22", "#40e0d0", "#1e90ff", "#ba55d3"]}}
          }
        },
        {
          "mark": {"type": "point", "opacity": 0},
          "encoding": {
            "x": {"field": "x", "type": "quantitative", "axis": {"orient": "top", "values": [0, 0.2, 0.4, 0.6], "labels": false, "title": null, "labelPadding": 0}},
            "y": {"field": "y", "type": "quantitative", "axis": {"orient": "right", "values": [0, 2.5, 5, 7.5, 10, 12.5, 15, 17.5], "labels": false, "title": null, "labelPadding": 0}}
          }
        }
      ],
      "resolve": {"axis": {"x": "independent", "y": "independent"}}
    }
  ]
}
